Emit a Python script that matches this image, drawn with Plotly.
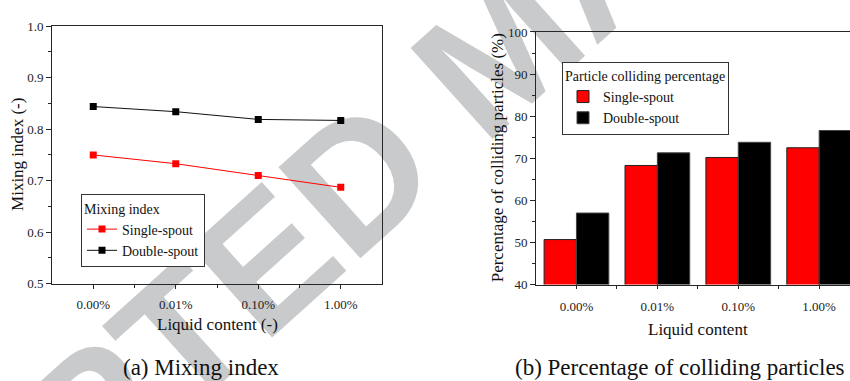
import plotly.graph_objects as go

# Liquid content levels shared by both panels
liquid = ["0.00%", "0.01%", "0.10%", "1.00%"]
pos = list(range(len(liquid)))

# (a) mixing index
mix_single = [0.750, 0.733, 0.710, 0.687]
mix_double = [0.844, 0.834, 0.819, 0.817]

# (b) percentage of colliding particles
coll_single = [50.7, 68.3, 70.2, 72.5]
coll_double = [57.0, 71.3, 73.8, 76.6]

SERIF = "Liberation Serif, Times New Roman, serif"
AX = "#262626"
W, H = 850, 381


def px(x):
    return x / W


def py(y):
    return (H - y) / H


fig = go.Figure()

fig.add_trace(go.Scatter(
    x=pos, y=mix_single, name="Single-spout", mode="lines+markers",
    line=dict(color="#ff0000", width=1),
    marker=dict(symbol="square", size=7, color="#ff0000"),
    xaxis="x", yaxis="y", legend="legend"))
fig.add_trace(go.Scatter(
    x=pos, y=mix_double, name="Double-spout", mode="lines+markers",
    line=dict(color="#111111", width=1),
    marker=dict(symbol="square", size=7, color="#000000"),
    xaxis="x", yaxis="y", legend="legend"))

fig.add_trace(go.Bar(
    x=pos, y=coll_single, name="Single-spout",
    marker=dict(color="#ff0000", line=dict(color="#222222", width=1)),
    xaxis="x2", yaxis="y2", legend="legend2"))
fig.add_trace(go.Bar(
    x=pos, y=coll_double, name="Double-spout",
    marker=dict(color="#000000", line=dict(color="#444444", width=1)),
    xaxis="x2", yaxis="y2", legend="legend2"))

tickfont = dict(family=SERIF, size=13, color="#222222")
common = dict(showline=True, linecolor=AX, linewidth=1, showgrid=False,
              zeroline=False, ticks="outside", tickcolor=AX, tickfont=tickfont)

legend_common = dict(xanchor="left", yanchor="top",
                     bgcolor="white", bordercolor="#333333", borderwidth=1,
                     font=dict(family=SERIF, size=14, color="#111111"),
                     tracegroupgap=0, itemwidth=30)

fig.update_layout(
    width=W, height=H,
    margin=dict(l=0, r=0, t=0, b=0),
    paper_bgcolor="white", plot_bgcolor="rgba(0,0,0,0)",
    barmode="group", bargap=0.2, bargroupgap=0,
    font=dict(family=SERIF, color="#111111"),
    xaxis=dict(domain=[px(52), px(382)], range=[-0.5, 3.5], anchor="y",
               tickvals=pos, ticktext=liquid, ticklen=4, mirror=True,
               ticklabelstandoff=5,
               minor=dict(tickvals=[0.5, 1.5, 2.5], ticks="outside", ticklen=3,
                          tickcolor=AX),
               **common),
    yaxis=dict(domain=[py(288), py(20)], range=[0.5, 1.0], anchor="x",
               dtick=0.1, tickformat=".1f", ticklen=5, mirror=True,
               minor=dict(dtick=0.05, ticks="outside", ticklen=3, tickcolor=AX),
               **common),
    xaxis2=dict(domain=[px(536), 1.0], range=[-0.5, 3.381], anchor="y2",
                tickvals=pos, ticktext=liquid, ticklen=3, mirror=True,
                ticklabelstandoff=7,
                minor=dict(tickvals=[0.5, 1.5, 2.5], ticks="outside", ticklen=3,
                           tickcolor=AX),
                **common),
    yaxis2=dict(domain=[py(289), py(26)], range=[40, 100], anchor="x2",
                dtick=10, ticklen=5, mirror=False,
                minor=dict(dtick=5, ticks="outside", ticklen=3, tickcolor=AX),
                **common),
    legend=dict(x=px(81), y=py(195),
                title=dict(text="Mixing index", font=dict(family=SERIF, size=14)),
                **legend_common),
    legend2=dict(x=px(562), y=py(57),
                 title=dict(text="Particle colliding percentage",
                            font=dict(family=SERIF, size=14)),
                 **legend_common),
    showlegend=True,
)

# Watermark sits beneath the plotting layers
wx, wy = 490, 30
fig.add_shape(
    type="rect", xref="paper", yref="paper", layer="below",
    x0=px(wx) - 0.005, x1=px(wx) + 0.005, y0=py(wy) - 0.005, y1=py(wy) + 0.005,
    line=dict(width=0), fillcolor="rgba(0,0,0,0)",
    label=dict(text="ACCEPTED MANUSCRIPT", textangle=-42,
               textposition="middle center",
               font=dict(family="Liberation Sans Narrow, Arial Narrow, Liberation Sans",
                         size=178, color="#c9cacc", weight="bold")))

ann_font = dict(family=SERIF, size=17, color="#111111")
cap_font = dict(family=SERIF, size=23, color="#111111")
annotations = [
    dict(text="Liquid content (-)", x=px(217), y=py(331), font=ann_font),
    dict(text="Liquid content", x=px(698), y=py(336), font=ann_font),
    dict(text="Mixing index (-)", x=px(18), y=py(154), textangle=-90, font=ann_font),
    dict(text="Percentage of colliding particles (%)", x=px(497), y=py(157.5),
         textangle=-90, font=ann_font),
    dict(text="(a) Mixing index", x=px(201), y=py(375), font=cap_font),
    dict(text="(b) Percentage of colliding particles", x=px(513), y=py(375),
         xanchor="left", font=cap_font),
]
for a in annotations:
    a.setdefault("xanchor", "center")
    fig.add_annotation(xref="paper", yref="paper", yanchor="middle",
                       showarrow=False, **a)

fig.write_html("out.html")
